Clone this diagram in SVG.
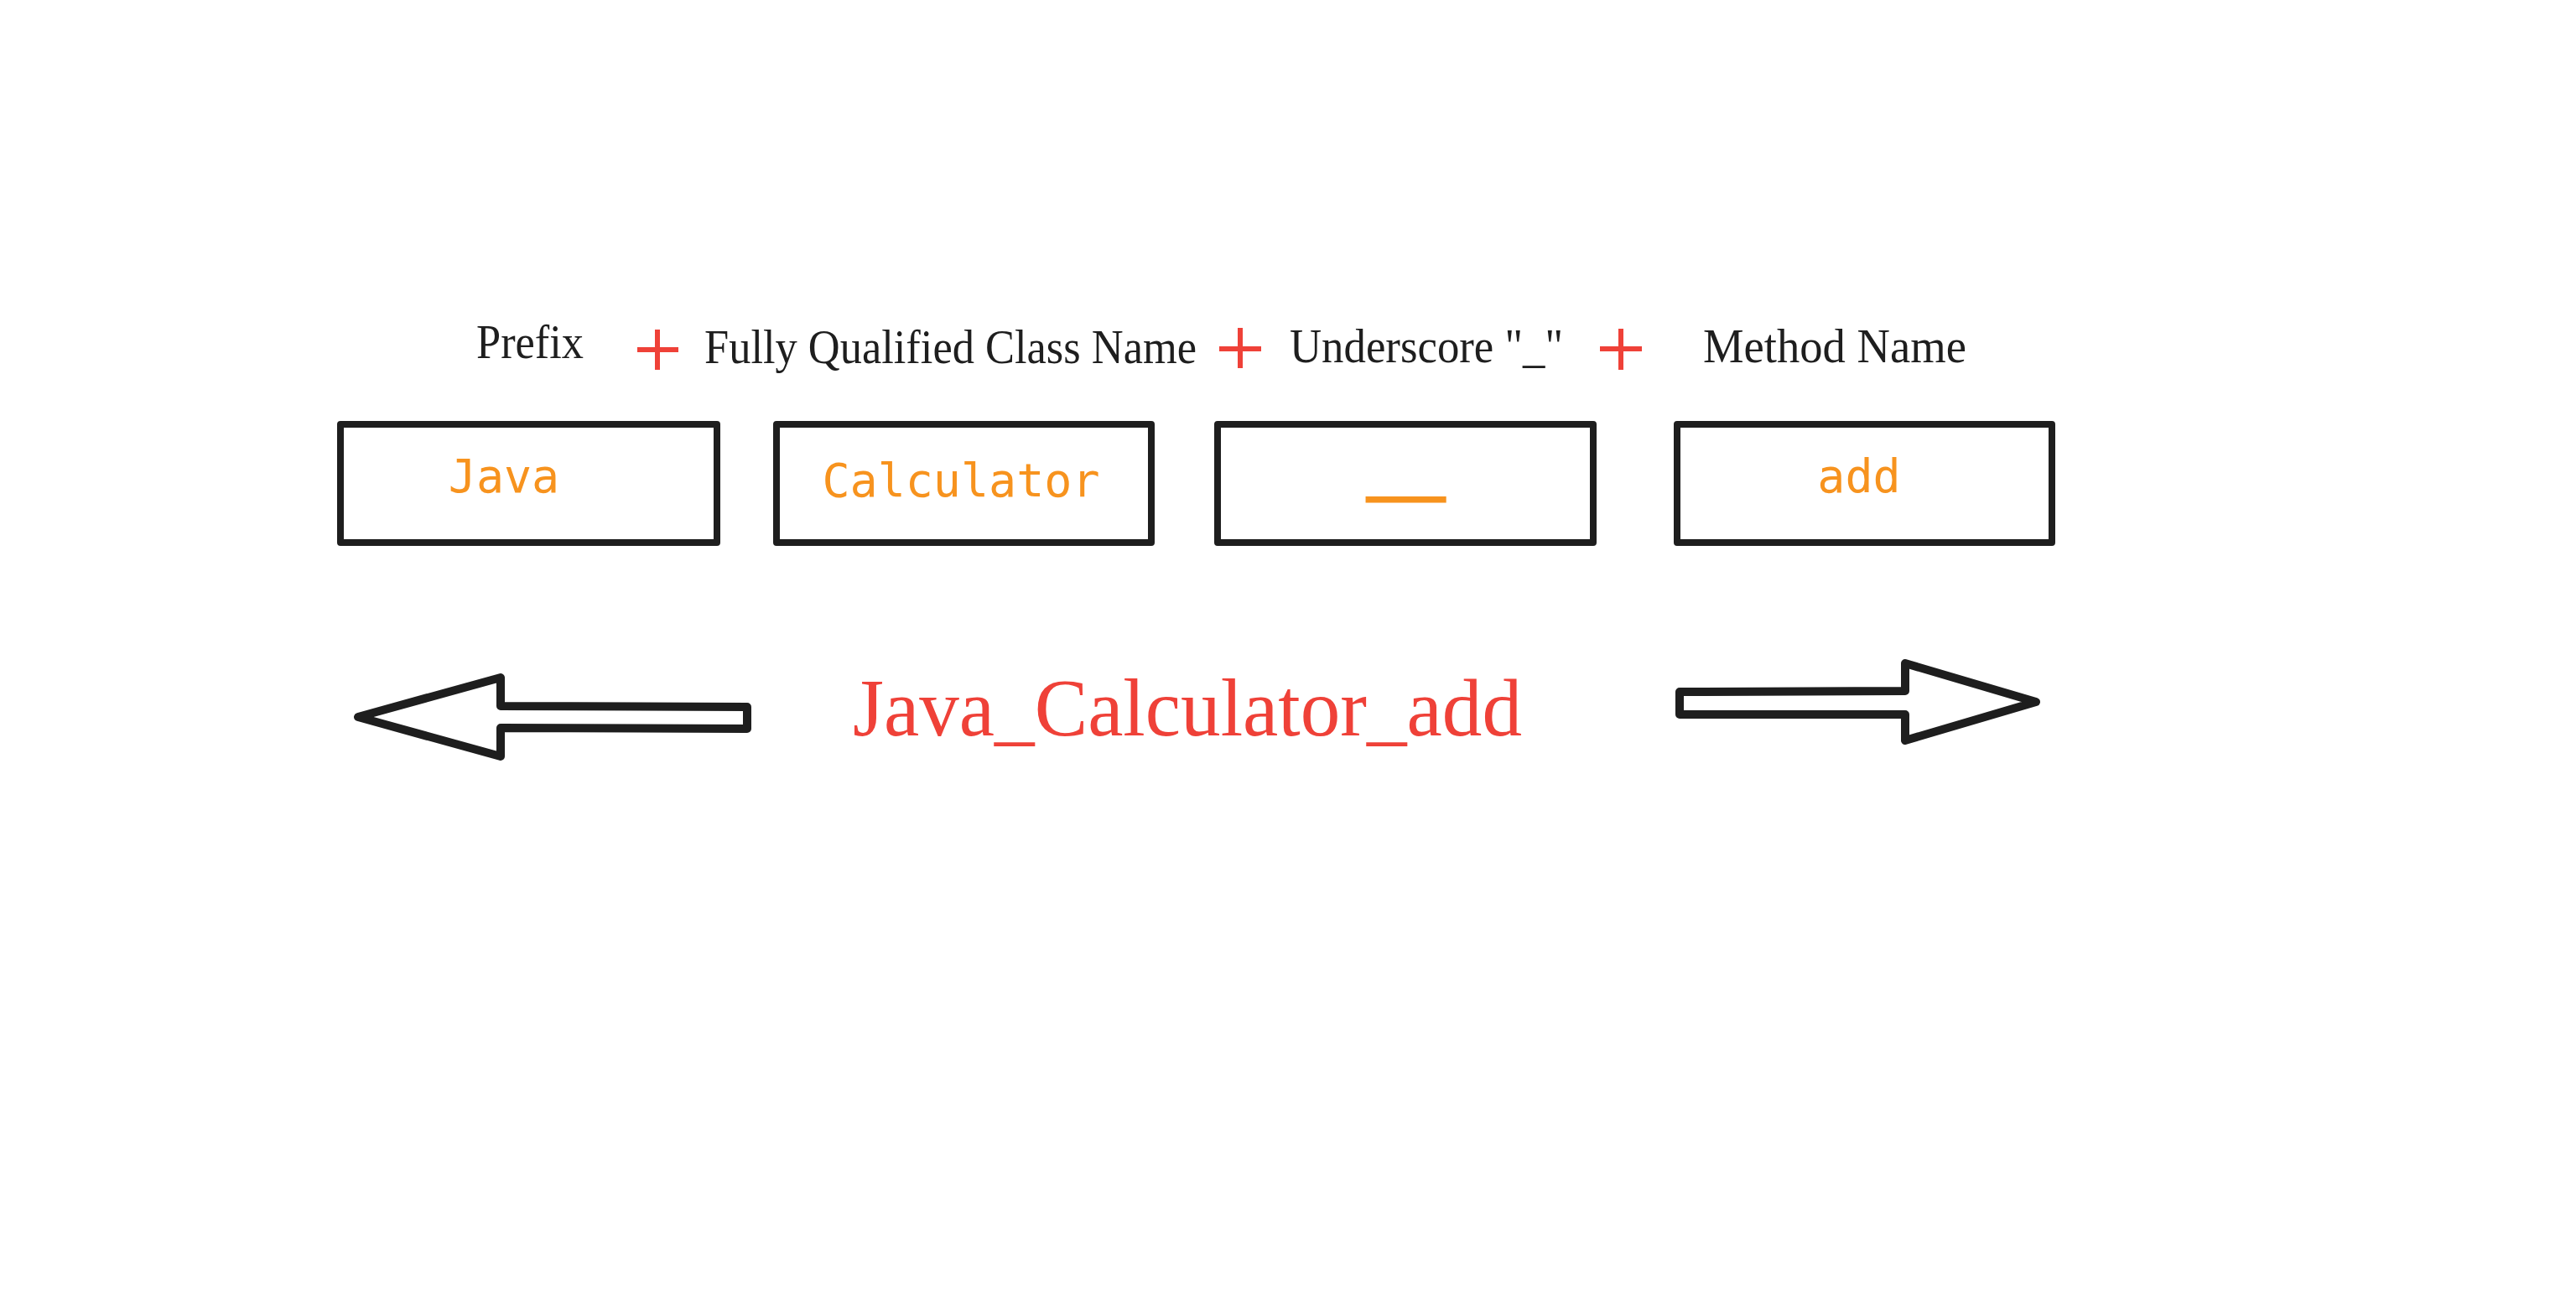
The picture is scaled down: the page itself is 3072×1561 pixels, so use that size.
<svg xmlns="http://www.w3.org/2000/svg" width="3072" height="1561" viewBox="0 0 3072 1561">
<style>
.hdr{font-family:"Liberation Serif","Times New Roman",serif;font-size:56px;fill:#1e1e1e}
.box{fill:none;stroke:#1e1e1e;stroke-width:8;stroke-linejoin:round}
.mono{font-family:"DejaVu Sans Mono","Liberation Mono",monospace;font-size:55px;fill:#f7931e;text-anchor:middle}
.plus{stroke:#ef4138;stroke-width:6;fill:none}
.arrow{fill:none;stroke:#1e1e1e;stroke-width:10;stroke-linejoin:round}
.big{font-family:"Liberation Serif","Times New Roman",serif;font-size:98px;fill:#ef4138}
</style>
<rect width="3072" height="1561" fill="#ffffff"/>
<g id="labels">
<text class="hdr" x="568" y="427" textLength="128" lengthAdjust="spacingAndGlyphs">Prefix</text>
<text class="hdr" x="840" y="433" textLength="587" lengthAdjust="spacingAndGlyphs">Fully Qualified Class Name</text>
<text class="hdr" x="1538" y="432" textLength="326" lengthAdjust="spacingAndGlyphs">Underscore "_"</text>
<text class="hdr" x="2031" y="432" textLength="314" lengthAdjust="spacingAndGlyphs">Method Name</text>
</g>
<g id="plus-signs">
<path class="plus" d="M784,393 V441 M760,417 H809"/>
<path class="plus" d="M1479,391 V439 M1454,416 H1504"/>
<path class="plus" d="M1933,392 V441 M1908,416 H1958"/>
</g>
<g id="node-prefix">
<rect class="box" x="406" y="506" width="449" height="141"/>
<text class="mono" x="601" y="587">Java</text>
</g>
<g id="node-class">
<rect class="box" x="926" y="506" width="447" height="141"/>
<text class="mono" x="1146" y="592">Calculator</text>
</g>
<g id="node-underscore">
<rect class="box" x="1452" y="506" width="448" height="141"/>
<text class="mono" transform="translate(1676.5,571) scale(2.72,2)" x="0" y="0" style="font-size:56px;stroke:#f7931e;stroke-width:1.6">_</text>
</g>
<g id="node-method">
<rect class="box" x="2000" y="506" width="447" height="141"/>
<text class="mono" x="2217" y="587">add</text>
</g>
<g id="connectors">
<path class="arrow" d="M427,855 L597,808 L597,842 L891,843 L891,869 L597,868 L597,902 Z"/>
<path class="arrow" d="M2003,825 L2272,824 L2272,791 L2428,837 L2272,883 L2272,852 L2003,852 Z"/>
</g>
<g id="result">
<text class="big" x="1017" y="877" textLength="798" lengthAdjust="spacingAndGlyphs">Java_Calculator_add</text>
</g>
</svg>
